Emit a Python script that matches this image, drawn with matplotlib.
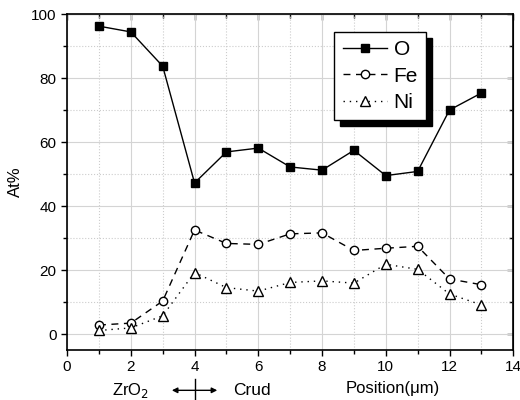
import matplotlib.pyplot as plt
from matplotlib.ticker import MultipleLocator

plt.rcParams["font.family"] = ["Liberation Sans", "DejaVu Sans"]

position = [1, 2, 3, 4, 5, 6, 7, 8, 9, 10, 11, 12, 13]
o_at = [96.2, 94.4, 83.7, 47.2, 56.9, 58.1, 52.2, 51.2, 57.4, 49.5, 50.8, 70.0, 75.3]
fe_at = [2.8, 3.4, 10.3, 32.5, 28.3, 28.0, 31.3, 31.6, 26.1, 26.8, 27.4, 17.2, 15.4]
ni_at = [1.1, 1.9, 5.7, 19.2, 14.5, 13.4, 16.1, 16.6, 15.9, 21.8, 20.2, 12.5, 9.1]
boundary = 4

fig = plt.figure(figsize=(5.2, 4), dpi=100)
ax = fig.add_axes([0.129, 0.125, 0.858, 0.84])

ax.plot(position, o_at, "-", color="black", lw=1, marker="s", ms=5.5,
        mfc="black", mec="black", label="O")
ax.plot(position, fe_at, color="black", lw=1, ls=(0, (5, 4)), marker="o", ms=6,
        mfc="white", mec="black", label="Fe")
ax.plot(position, ni_at, color="black", lw=1, ls=(0, (1, 3.5)), marker="^", ms=6.5,
        mfc="white", mec="black", label="Ni")

ax.set_xlim(0, 14)
ax.set_ylim(-5, 100)
ax.xaxis.set_major_locator(MultipleLocator(2))
ax.xaxis.set_minor_locator(MultipleLocator(1))
ax.yaxis.set_major_locator(MultipleLocator(20))
ax.yaxis.set_minor_locator(MultipleLocator(10))

ax.grid(which="major", color="#d4d4d4", lw=0.8)
ax.grid(which="minor", color="#cccccc", lw=0.8, ls=":")
ax.set_axisbelow(True)

for s in ax.spines.values():
    s.set_linewidth(1.2)
ax.tick_params(which="both", direction="out", width=1.0, labelsize=11)
ax.tick_params(which="major", length=4)
ax.tick_params(which="minor", length=3)

# mirrored ticks on top and right, pointing inward
top = ax.secondary_xaxis("top")
top.xaxis.set_major_locator(MultipleLocator(2))
top.xaxis.set_minor_locator(MultipleLocator(1))
top.tick_params(which="both", direction="in", labeltop=False, width=1.0)
top.tick_params(which="major", length=4)
top.tick_params(which="minor", length=3)
right = ax.secondary_yaxis("right")
right.yaxis.set_major_locator(MultipleLocator(20))
right.yaxis.set_minor_locator(MultipleLocator(10))
right.tick_params(which="both", direction="in", labelright=False, width=1.0)
right.tick_params(which="major", length=4)
right.tick_params(which="minor", length=3)

ax.set_ylabel("At%", fontsize=12, labelpad=6)

# labels under the axis
ax.text(0.729, -0.116, "Position(\u03bcm)", transform=ax.transAxes, fontsize=12,
        ha="center", va="center")
ax.text(0.143, -0.12, "ZrO$_2$", transform=ax.transAxes, fontsize=12,
        ha="center", va="center")
ax.text(0.415, -0.12, "Crud", transform=ax.transAxes, fontsize=12.5,
        ha="center", va="center")
ax.annotate("", xy=(boundary - 0.8, -0.12), xytext=(boundary + 0.8, -0.12),
            xycoords=("data", "axes fraction"),
            arrowprops=dict(arrowstyle="<|-|>", color="black", lw=1,
                            mutation_scale=8), annotation_clip=False)
ax.plot([boundary, boundary], [-0.085, -0.16], color="black", lw=1,
        transform=ax.get_xaxis_transform(), clip_on=False)

leg = ax.legend(loc="upper left", bbox_to_anchor=(0.599, 0.946), borderaxespad=0,
                fontsize=15, handlelength=2.15, handletextpad=0.3, labelspacing=0.35,
                borderpad=0.4, numpoints=1, fancybox=False, framealpha=1,
                edgecolor="black", shadow={"color": "black", "alpha": 1, "ox": 4, "oy": -4})
leg.get_frame().set_linewidth(1.0)

fig.savefig("out.png", dpi=100)
